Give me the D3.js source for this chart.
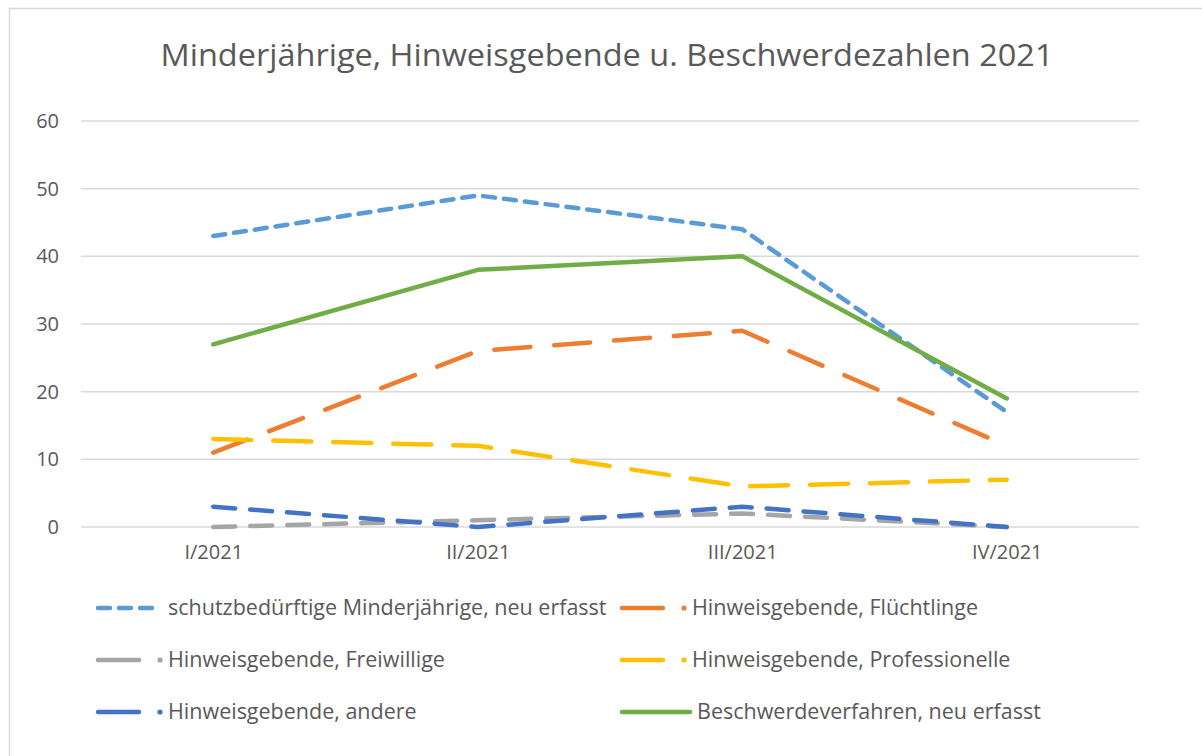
<!DOCTYPE html>
<html>

<head>
  <meta charset="UTF-8">
  <script src="https://d3js.org/d3.v7.js"></script>
  <style>
    body { margin: 0; background: #fff; }
    svg text { font-family: "Open Sans", "Noto Sans", sans-serif; fill: #595959; }
  </style>
</head>

<body>
  <div id="chart"></div>

  <script>
    // data

    const quarters = ["I/2021", "II/2021", "III/2021", "IV/2021"];
    const yTicks = [0, 10, 20, 30, 40, 50, 60];

    const seriesNames = [
      "schutzbedürftige Minderjährige, neu erfasst",
      "Hinweisgebende, Flüchtlinge",
      "Hinweisgebende, Freiwillige",
      "Hinweisgebende, Professionelle",
      "Hinweisgebende, andere",
      "Beschwerdeverfahren, neu erfasst"
    ];

    const minderjaehrige = [43, 49, 44, 17];
    const fluechtlinge = [11, 26, 29, 12];
    const freiwillige = [0, 1, 2, 0];
    const professionelle = [13, 12, 6, 7];
    const andere = [3, 0, 3, 0];
    const beschwerden = [27, 38, 40, 19];

    const values = [minderjaehrige, fluechtlinge, freiwillige, professionelle, andere, beschwerden];

    // styles per series: colour, dash, legend kind
    const styles = [
      { color: "#5B9BD5", dash: "12,9", legend: "dash" },
      { color: "#ED7D31", dash: "36,24", legend: "dashdot" },
      { color: "#A5A5A5", dash: "22,15", legend: "dashdot" },
      { color: "#FFC000", dash: "38,22", legend: "dashdot" },
      { color: "#4472C4", dash: "22,15", legend: "dashdot" },
      { color: "#70AD47", dash: null, legend: "solid" }
    ];

    // set up

    const W = 1202, H = 756;
    const margin = { top: 121, right: 63, bottom: 229, left: 81 };
    const width = W - margin.left - margin.right;
    const height = H - margin.top - margin.bottom;

    const root = d3.select('#chart')
      .append('svg')
        .attr('width', W)
        .attr('height', H);

    // chart border
    root.append('rect')
      .attr('x', 9.5).attr('y', 8.5)
      .attr('width', W + 20).attr('height', H + 20)
      .attr('fill', 'none')
      .attr('stroke', '#D9D9D9')
      .attr('stroke-width', 1.5);

    root.append('text')
      .attr('x', 607)
      .attr('y', 66)
      .attr('text-anchor', 'middle')
      .attr('font-size', 31)
      .attr('textLength', 893)
      .attr('lengthAdjust', 'spacingAndGlyphs')
      .text("Minderjährige, Hinweisgebende u. Beschwerdezahlen 2021");

    const svg = root.append('g')
      .attr('transform', `translate(${margin.left},${margin.top})`);

    // scales

    const x = d3.scalePoint()
        .domain(quarters)
        .range([0, width])
        .padding(0.5);

    const y = d3.scaleLinear()
        .domain([0, 60])
        .range([height, 0]);

    // grid + axes

    svg.append('g')
      .selectAll('line')
      .data(yTicks)
      .join('line')
        .attr('x1', 0).attr('x2', width)
        .attr('y1', d => y(d)).attr('y2', d => y(d))
        .attr('stroke', '#D9D9D9')
        .attr('stroke-width', 1.5);

    const yAxis = d3.axisLeft(y).tickValues(yTicks).tickSize(0).tickPadding(22);
    svg.append('g')
        .call(yAxis)
        .attr('font-family', null)
        .attr('font-size', 20)
        .call(g => g.select('.domain').remove());

    const xAxis = d3.axisBottom(x).tickSize(0).tickPadding(18);
    svg.append('g')
        .attr('transform', `translate(0,${height})`)
        .call(xAxis)
        .attr('font-family', null)
        .attr('font-size', 20)
        .call(g => g.select('.domain').remove());

    // lines

    const line = d3.line()
        .x((d, i) => x(quarters[i]))
        .y(d => y(d));

    svg.append('g')
      .selectAll('path')
      .data(values)
      .join('path')
        .attr('d', d => line(d))
        .attr('fill', 'none')
        .attr('stroke', (d, i) => styles[i].color)
        .attr('stroke-width', 4.5)
        .attr('stroke-linecap', 'round')
        .attr('stroke-linejoin', 'round')
        .attr('stroke-dasharray', (d, i) => styles[i].dash);

    // legend

    const legendCols = [96, 620];
    const legendRows = [608, 660, 712];

    const legend = root.append('g')
      .selectAll('g')
      .data(seriesNames)
      .join('g')
        .attr('transform', (d, i) => `translate(${legendCols[i % 2]},${legendRows[Math.floor(i / 2)]})`);

    legend.each(function(name, i) {
      const g = d3.select(this);
      const s = styles[i];
      if (s.legend === 'dash') {
        g.append('line')
          .attr('x1', 2).attr('x2', 60).attr('y1', 0).attr('y2', 0)
          .attr('stroke', s.color).attr('stroke-width', 4.5)
          .attr('stroke-linecap', 'round')
          .attr('stroke-dasharray', '12,9');
      } else if (s.legend === 'dashdot') {
        g.append('line')
          .attr('x1', 2).attr('x2', 43).attr('y1', 0).attr('y2', 0)
          .attr('stroke', s.color).attr('stroke-width', 4.5)
          .attr('stroke-linecap', 'round');
        g.append('circle')
          .attr('cx', 64).attr('cy', 0).attr('r', 2.6)
          .attr('fill', s.color);
      } else {
        g.append('line')
          .attr('x1', 2).attr('x2', 70).attr('y1', 0).attr('y2', 0)
          .attr('stroke', s.color).attr('stroke-width', 4.5)
          .attr('stroke-linecap', 'round');
      }
      g.append('text')
        .attr('x', s.legend === 'solid' ? 77 : 72)
        .attr('y', 7)
        .attr('font-size', 21.5)
        .text(name);
    });
  </script>
</body>

</html>
